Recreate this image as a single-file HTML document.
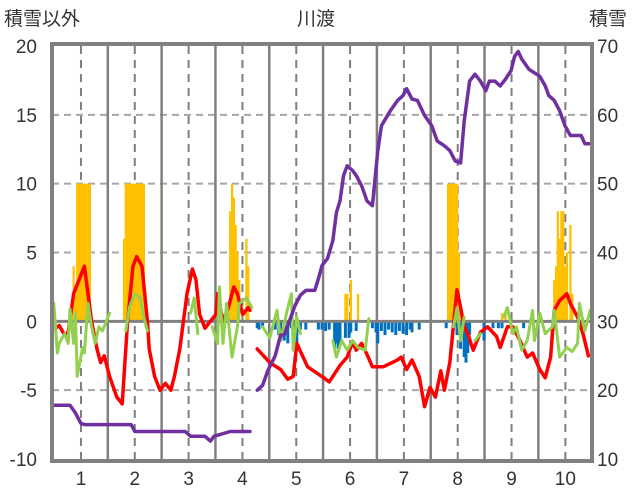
<!DOCTYPE html>
<html><head><meta charset="utf-8"><style>
html,body{margin:0;padding:0;background:#fff;}
svg{display:block;font-family:"Liberation Sans","Noto Sans CJK JP",sans-serif;}
</style></head><body>
<svg id="c" width="636" height="501"></svg>
<script>
const monthLabels=["1","2","3","4","5","6","7","8","9","10"];
const leftTicks=[20,15,10,5,0,-5,-10];
const rightTicks=[70,60,50,40,30,20,10];
const redDays=[0,2,4,7,9,12,18,22,25,27,29,32,36,39,42,45,47,50,53,54,57,60,63,66,68,71,75,78,80,82,85,88,91,92,95,98,101,103,106,109,110,112,114,121,127,131,134,136,142,151,154,160,164,167,169,172,175,178,184,192,194,197,200,204,207,210,213,216,218,221,225,227,229,231,234,238,242,247,249,253,256,260,264,267,271,274,277,279,282,286,288,292,295,298];
const redVals=[0,-0.5,-0.3,-1,-0.8,2,4,0,-2,-3,-2.5,-4,-5.5,-6,0,4,4.7,4,0,-2,-4,-5,-4.5,-5,-4,-2,2,3.8,3,0.5,-0.5,0,0.5,2,0,1,2.5,2,0.5,1,0.8,null,-2,-3,-3.5,-4.2,-4,-1.6,-3.3,-4.1,-4.4,-3.2,-2.6,-1.5,-2.1,-1.6,-2.4,-3.3,-3.3,-2.8,-2.6,-3.5,-2.8,-4,-6.2,-4.8,-5.5,-3.6,-5,-3,2.3,1,-0.4,-0.9,-2.1,-0.8,-0.4,-1.1,-1.9,-0.4,-0.4,-1.4,-2.6,-2.3,-3.5,-4.1,-2.6,0.8,1.5,2,1.3,0.3,-0.9,-2.5];
const greenDays=[1,3,4,7,9,10,12,13,14,17,18,20,22,24,26,28,32,34,41,43,46,49,51,53,60,77,79,81,85,89,92,93,95,97,100,103,104,108,111,114,117,121,125,127,131,133,134,136,138,145,156,158,161,164,167,170,174,176,200,223,225,227,229,232,235,238,245,251,253,256,258,261,264,267,268,271,274,278,279,282,286,289,292,293,296,299];
const greenVals=[1.3,-2.3,-1.6,-0.9,-1.6,0.9,-1.6,0.6,-4,-1.9,-2.3,1.3,-0.4,-1.6,-0.4,-0.7,0.6,null,-0.7,1,2,1.7,0.3,-0.7,null,0.6,1.7,-0.9,null,-0.4,-1.6,2.5,-1.6,1.3,-2.6,-0.4,1.3,1.7,1,null,-0.4,-1.2,0.8,-1.4,1,2,-2.1,0.3,-0.9,null,-1.4,-2.6,-1.4,-2.1,-1.4,-1.9,-2.1,0.2,null,-0.4,1,-1.4,0.3,null,-1.4,-0.9,null,0.3,1,-0.9,-0.4,-2.1,-1.4,0.8,-1.4,0.6,-0.9,-0.4,0.8,-2.6,-1.9,-2.2,-1.6,1.3,-0.7,0.8];
const purpleDays=[0,10,13,16,18,44,46,74,77,85,88,90,99,110,112,114,117,120,124,127,129,132,135,138,141,146,148,150,153,156,158,160,162,164,167,169,172,175,178,181,183,188,192,195,197,200,203,207,211,214,218,221,224,227,229,232,235,238,241,243,246,249,252,255,257,259,261,265,271,274,276,279,282,285,288,294,296,300];
const purpleVals=[17.8,17.8,16.7,15.2,15,15,14,14,13.3,13.3,12.6,13.3,14,14,null,20,20.7,22.9,25,28,28,30.1,32.3,33.8,34.5,34.5,36.2,38.1,39.1,41.7,45.8,47.5,51.2,52.6,51.9,51.2,49.7,47.5,46.8,54.8,58.4,60.6,62.1,62.8,63.8,62.3,62.1,59.9,58.4,56.2,55.5,54.8,53.3,53,59.1,64.9,65.9,64.9,63.5,64.9,64.9,64.2,65.2,66.4,68.5,69.2,68.1,66.6,65.6,64.2,62.8,62.1,60.6,58.4,57,57,55.8,55.8];
const posDays=[12,13,14,15,16,17,18,19,20,21,40,41,42,43,44,45,46,47,48,49,50,51,99,100,101,102,103,104,108,109,163,164,166,170,220,221,222,223,224,225,226,227,250,252,279,280,281,282,283,284,285,286,288,289];
const posVals=[4,2,10,10,10,10,10,10,10,10,6,10,10,10,10,10,10,10,10,10,10,10,8,10,9,7,5,3,6,4,2,2,3,2,10,10,10,10,10,10,5,1,0.6,0.6,3,4,8,6,8,8,4,5,7,2];
const negDays=[114,115,117,124,126,127,129,131,133,134,136,138,141,148,150,152,154,157,158,159,160,163,165,166,169,178,180,181,183,185,187,189,191,193,195,197,199,200,204,219,225,227,229,230,231,232,240,245,248,250,262];
const negVals=[-0.5,-0.6,-0.5,-0.6,-1,-1,-1.4,-1.6,-0.5,-0.8,-1.6,-0.6,-0.6,-0.6,-0.6,-0.7,-0.6,-2,-1.6,-2,-1.5,-1.2,-1.2,-0.8,-0.7,-0.5,-0.8,-1.6,-0.7,-1,-0.6,-0.8,-1,-0.7,-0.9,-1,-0.6,-0.8,-0.6,-0.5,-1,-2,-2.6,-3,-2.3,-1,-1.4,-0.5,-0.5,-0.5,-0.5];

const NS="http://www.w3.org/2000/svg";
const svg=document.getElementById('c');
const X0=52,X1=592,Y0=46,Y1=459;
const xS=d=>X0+d*(X1-X0)/300;
const yL=v=>Y1-(v+10)*(Y1-Y0)/30;
const yR=v=>Y1-(v-10)*(Y1-Y0)/60;
function mk(tag,attrs,parent){const e=document.createElementNS(NS,tag);for(const k in attrs)e.setAttribute(k,attrs[k]);(parent||svg).appendChild(e);return e;}

const grid=mk('g',{});


leftTicks.forEach(v=>{ if(v===0||v===20||v===-10)return;
  const l=mk('line',{x1:X0,x2:X1,y1:yL(v),y2:yL(v),stroke:'#a6a6a6','stroke-width':2,'stroke-dasharray':'7,5'},grid);
  
  
});
monthLabels.forEach((m,i)=>{
  const c=16.1+29.9*i, b=31+29.9*i;
  const l=mk('line',{x1:xS(c),x2:xS(c),y1:Y0,y2:Y1,stroke:'#7f7f7f','stroke-width':2,'stroke-dasharray':'8,6'},grid);
  
  
  if(b<299){const s=mk('line',{x1:xS(b),x2:xS(b),y1:Y0,y2:Y1,stroke:'#808080','stroke-width':2.5},grid);
  
  }
});

const bars=mk('g',{});


posDays.forEach((d,i)=>{const v=posVals[i];
  const r=mk('rect',{x:xS(d)-1.1,y:yL(v),width:2.3,height:yL(0)-yL(v),fill:'#ffc000'},bars);
  
  
});
negDays.forEach((d,i)=>{const v=negVals[i];
  const r=mk('rect',{x:xS(d)-1.5,y:yL(0),width:3,height:yL(v)-yL(0),fill:'#0070c0'},bars);
  
  
});
const z=mk('line',{x1:X0,x2:X1,y1:yL(0),y2:yL(0),stroke:'#808080','stroke-width':3});



function line(days,vals,ys,color,w,name){
  let d='',pen=false;
  days.forEach((x,i)=>{const v=vals[i];if(v===null){pen=false;return;}
    d+=(pen?'L':'M')+xS(x).toFixed(1)+','+ys(v).toFixed(1);pen=true;});
  const p=mk('path',{d:d,fill:'none',stroke:color,'stroke-width':w,'stroke-linejoin':'round','stroke-linecap':'round'});
  
  
}
line(redDays,redVals,yL,'#ff0000',3.5,'red-series-line');
line(greenDays,greenVals,yL,'#92d050',3,'green-series-line');
line(purpleDays,purpleVals,yR,'#7030a0',3.5,'snow-depth-line');

const fr=mk('rect',{x:X0,y:44,width:X1-X0,height:417,fill:'none',stroke:'#808080','stroke-width':4});



leftTicks.forEach(v=>{const t=mk('text',{x:37,y:yL(v)+7,'text-anchor':'end','font-size':19,fill:'#333'});t.textContent=v;
  
  });
rightTicks.forEach(v=>{const t=mk('text',{x:597,y:yR(v)+7,'font-size':19,fill:'#333'});t.textContent=v;
  
  });
monthLabels.forEach((m,i)=>{const t=mk('text',{x:xS(16.1+29.9*i),y:485,'text-anchor':'middle','font-size':19,fill:'#333'});t.textContent=m;
  
  });
const t1=mk('text',{x:4,y:25,'font-size':19,fill:'#333'});t1.textContent='積雪以外';


const t2=mk('text',{x:316,y:25,'text-anchor':'middle','font-size':19,fill:'#333'});t2.textContent='川渡';


const t3=mk('text',{x:589,y:25,'font-size':19,fill:'#333'});t3.textContent='積雪';


</script>
</body></html>
